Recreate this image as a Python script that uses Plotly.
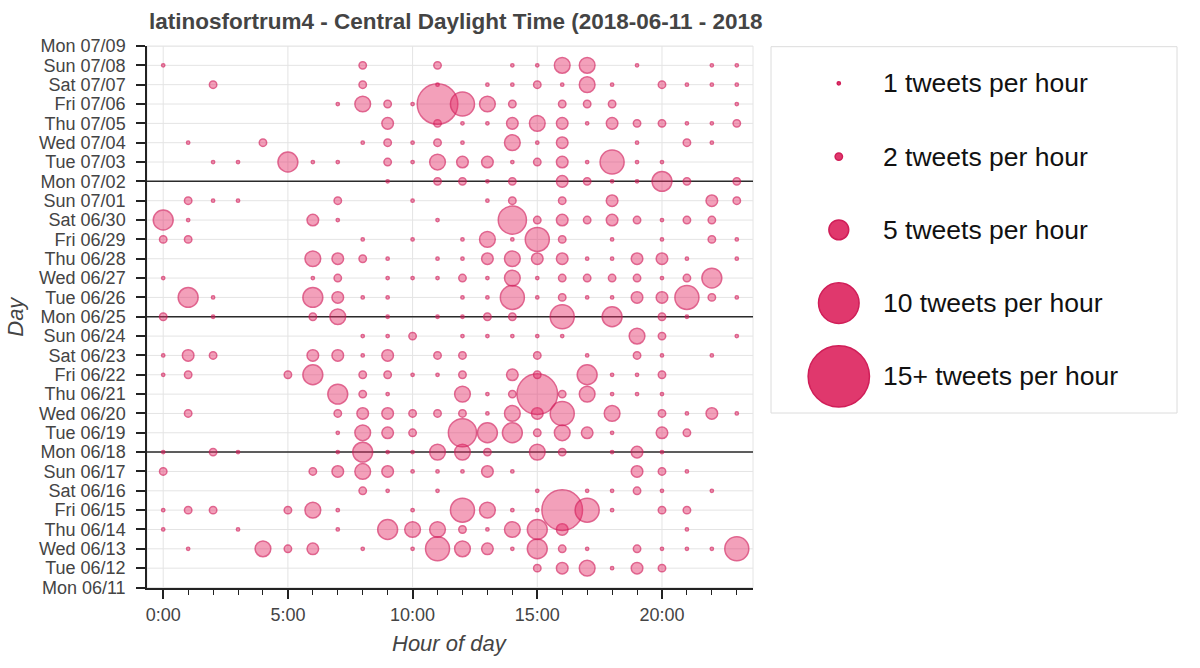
import plotly.graph_objects as go
import pandas as pd

# ---------------- data ----------------
day_labels = list(pd.date_range("2018-06-11", "2018-07-09").strftime("%a %m/%d"))
hour_ticks = [0, 5, 10, 15, 20]
hour_tick_labels = ["0:00", "5:00", "10:00", "15:00", "20:00"]

# tweets per hour, {hour: count}, one dict per day
week1 = [  # Mon 06/11 .. Sun 06/17
    {},
    {15: 2, 16: 3, 17: 4, 18: 1, 19: 3, 20: 2},
    {1: 1, 4: 4, 5: 2, 6: 3, 8: 1, 10: 1, 11: 6, 12: 4, 13: 3, 14: 1, 15: 5, 16: 2, 17: 1, 19: 2, 20: 1, 21: 1, 22: 1, 23: 6},
    {0: 1, 3: 1, 7: 1, 9: 5, 10: 4, 11: 4, 12: 2, 13: 1, 14: 4, 15: 5, 16: 3, 21: 1},
    {0: 1, 1: 2, 2: 2, 5: 2, 6: 4, 7: 1, 10: 1, 12: 6, 13: 4, 14: 1, 15: 1, 16: 10, 17: 6, 18: 1, 20: 2, 21: 2},
    {8: 2, 9: 1, 11: 1, 15: 1, 17: 1, 18: 1, 19: 2, 20: 1, 22: 1},
    {0: 2, 6: 2, 7: 3, 8: 4, 9: 3, 10: 1, 11: 1, 12: 1, 13: 3, 14: 1, 19: 3, 20: 2, 21: 1},
]
week2 = [  # Mon 06/18 .. Sun 06/24
    {0: 1, 2: 2, 3: 1, 7: 1, 8: 5, 9: 1, 10: 1, 11: 4, 12: 4, 13: 2, 15: 4, 16: 2, 18: 1, 19: 3, 20: 1},
    {7: 1, 8: 4, 9: 3, 10: 2, 12: 7, 13: 5, 14: 5, 15: 2, 16: 4, 17: 3, 18: 1, 20: 3, 21: 2},
    {1: 2, 7: 2, 8: 3, 9: 3, 10: 2, 11: 2, 12: 2, 13: 1, 14: 4, 15: 3, 16: 6, 18: 4, 20: 2, 21: 1, 22: 3, 23: 1},
    {7: 5, 8: 2, 9: 1, 12: 4, 13: 1, 14: 2, 15: 10, 16: 2, 17: 4, 18: 1, 19: 1, 20: 1},
    {0: 1, 1: 2, 5: 2, 6: 5, 8: 2, 9: 2, 10: 1, 11: 1, 12: 2, 14: 3, 15: 2, 17: 5, 18: 1, 19: 1, 20: 2},
    {0: 1, 1: 3, 2: 2, 6: 3, 7: 3, 8: 1, 9: 3, 11: 2, 12: 2, 15: 2, 17: 1, 19: 2, 20: 1, 22: 1},
    {8: 1, 9: 1, 10: 2, 12: 1, 13: 1, 14: 1, 15: 1, 16: 1, 19: 4, 20: 2, 23: 1},
]
week3 = [  # Mon 06/25 .. Sun 07/01
    {0: 2, 2: 1, 6: 2, 7: 4, 9: 1, 11: 1, 12: 1, 13: 2, 14: 2, 16: 6, 18: 5, 20: 2, 21: 1},
    {1: 5, 2: 1, 6: 5, 7: 3, 8: 1, 9: 1, 12: 1, 13: 1, 14: 6, 15: 1, 16: 2, 17: 1, 18: 1, 19: 3, 20: 3, 21: 6, 22: 2, 23: 1},
    {0: 1, 6: 1, 7: 2, 9: 1, 10: 1, 11: 1, 12: 2, 13: 1, 14: 4, 15: 1, 16: 2, 17: 2, 18: 2, 19: 2, 20: 1, 21: 2, 22: 5},
    {6: 4, 7: 3, 8: 2, 9: 1, 11: 1, 12: 1, 13: 3, 14: 4, 15: 3, 16: 3, 17: 1, 18: 1, 19: 3, 20: 3, 21: 1, 23: 1},
    {0: 2, 1: 2, 8: 1, 10: 1, 12: 1, 13: 4, 14: 1, 15: 6, 16: 2, 18: 1, 20: 1, 22: 2, 23: 1},
    {0: 5, 1: 1, 6: 3, 7: 1, 11: 1, 14: 7, 15: 2, 16: 3, 17: 2, 18: 3, 19: 2, 20: 1, 21: 2, 22: 2},
    {1: 2, 2: 1, 3: 1, 7: 2, 10: 1, 13: 1, 14: 2, 16: 2, 18: 3, 22: 3, 23: 2},
]
week4 = [  # Mon 07/02 .. Sun 07/08
    {9: 1, 11: 2, 12: 2, 13: 1, 14: 2, 16: 3, 17: 2, 18: 1, 19: 1, 20: 5, 21: 2, 23: 2},
    {2: 1, 3: 1, 5: 5, 6: 1, 7: 1, 9: 2, 10: 1, 11: 4, 12: 3, 13: 3, 14: 1, 15: 2, 16: 3, 17: 1, 18: 6, 19: 1, 20: 1},
    {1: 1, 4: 2, 8: 1, 9: 2, 10: 1, 11: 2, 12: 1, 14: 4, 15: 1, 16: 3, 19: 1, 21: 2, 22: 1},
    {9: 3, 11: 2, 12: 1, 13: 1, 14: 3, 15: 4, 16: 3, 17: 1, 18: 3, 19: 2, 20: 2, 21: 1, 22: 1, 23: 2},
    {7: 1, 8: 4, 9: 2, 10: 1, 11: 10, 12: 6, 13: 4, 14: 2, 16: 2, 17: 2, 18: 2, 23: 1},
    {2: 2, 8: 2, 11: 1, 13: 1, 14: 1, 15: 2, 16: 1, 17: 4, 18: 1, 20: 2, 21: 1, 22: 1, 23: 1},
    {0: 1, 8: 2, 11: 2, 14: 1, 15: 1, 16: 4, 17: 4, 19: 1, 22: 1, 23: 1},
]
week5 = [  # Mon 07/09
    {},
]
monday_rows = ["Mon 06/18", "Mon 06/25", "Mon 07/02"]

legend_counts = [1, 2, 5, 10, 15]
legend_labels = ["1 tweets per hour", "2 tweets per hour", "5 tweets per hour",
                 "10 tweets per hour", "15+ tweets per hour"]

title_text = "latinosfortrum4 - Central Daylight Time (2018-06-11 - 2018"

# ---------------- layout constants ----------------
W, H = 1200, 668
XR = [-0.65, 23.65]
YR = [0, 28]


def px(x):
    return x / W


def py(y):
    return 1 - y / H


PL, PR, PT, PB = 147, 753, 46, 587.5          # plot area (px)
LL, LR, LT, LB = 771, 1177, 46.7, 413          # legend box (px)
FONT = "Liberation Sans, Arial, Helvetica, sans-serif"
GRID = "#e4e4e4"


def diam(n):
    return 4.15 * min(n, 15) - 0.9


xs, ys, ss = [], [], []
all_days = week1 + week2 + week3 + week4 + week5
for di, rec in enumerate(all_days):
    for h, n in rec.items():
        xs.append(h)
        ys.append(di)
        ss.append(diam(n))

fig = go.Figure()
fig.add_trace(go.Scatter(
    x=xs, y=ys, mode="markers",
    marker=dict(size=ss, sizemode="diameter", color="rgba(228,44,104,0.64)",
                line=dict(color="rgba(210,26,88,0.95)", width=1.5)),
    showlegend=False, hoverinfo="skip", xaxis="x", yaxis="y"))

# legend glyphs
fig.add_trace(go.Scatter(
    x=[0.167] * len(legend_counts), y=list(range(len(legend_counts))), mode="markers",
    marker=dict(size=[diam(n) for n in legend_counts], sizemode="diameter",
                color="rgb(224,56,109)", opacity=1,
                line=dict(color="rgb(208,30,88)", width=1.5)),
    showlegend=False, hoverinfo="skip", xaxis="x2", yaxis="y2"))

annotations = []
for i, lab in enumerate(legend_labels):
    annotations.append(dict(text=lab, xref="paper", x=px(881), xanchor="left",
                            yref="y2", y=i, yanchor="middle", showarrow=False,
                            font=dict(family=FONT, size=26.5, color="#111")))

annotations += [
    dict(text="<b>" + title_text + "</b>", xref="paper", x=px(PL), xanchor="left",
         yref="paper", y=py(22), yanchor="middle", showarrow=False,
         font=dict(family=FONT, size=22.5, color="#444")),
    dict(text="<i>Hour of day</i>", xref="paper", x=px((PL + PR) / 2), xanchor="center",
         yref="paper", y=py(643), yanchor="middle", showarrow=False,
         font=dict(family=FONT, size=22, color="#444")),
    dict(text="<i>Day</i>", xref="paper", x=px(16), xanchor="center",
         yref="paper", y=py((PT + PB) / 2), yanchor="middle", showarrow=False,
         textangle=-90, font=dict(family=FONT, size=22, color="#444")),
]

shapes = [
    dict(type="rect", xref="paper", yref="paper", x0=px(LL), x1=px(LR),
         y0=py(LB), y1=py(LT), line=dict(color="#dcdcdc", width=1), layer="below"),
    dict(type="rect", xref="paper", yref="paper", x0=px(PL), x1=px(PR),
         y0=py(PB), y1=py(PT), line=dict(color=GRID, width=1), layer="below"),
]
# grid lines (drawn as shapes so the Monday separators sit on top of them)
for yi in range(len(day_labels)):
    shapes.append(dict(type="line", xref="paper", x0=px(PL), x1=px(PR), yref="y",
                       y0=yi, y1=yi, line=dict(color=GRID, width=1), layer="below"))
for hv in hour_ticks:
    shapes.append(dict(type="line", yref="paper", y0=py(PB), y1=py(PT), xref="x",
                       x0=hv, x1=hv, line=dict(color=GRID, width=1), layer="below"))
for m in monday_rows:
    yi = day_labels.index(m)
    shapes.append(dict(type="line", xref="paper", x0=px(PL), x1=px(PR), yref="y",
                       y0=yi, y1=yi, line=dict(color="#2b2b2b", width=1.5), layer="below"))

fig.update_layout(
    template="none",
    width=W, height=H, autosize=False,
    margin=dict(l=0, r=0, t=0, b=0, pad=0, autoexpand=False),
    paper_bgcolor="white", plot_bgcolor="white",
    font=dict(family=FONT, color="#444"),
    xaxis=dict(domain=[px(PL), px(PR)], range=XR, automargin=False,
               tickvals=hour_ticks, ticktext=hour_tick_labels,
               ticks="outside", ticklen=10, tickwidth=1.5, tickcolor="#222",
               showline=True, linecolor="#222", linewidth=1.5,
               showgrid=False, zeroline=False,
               tickfont=dict(family=FONT, size=18, color="#444"),
               minor=dict(tick0=0, dtick=1, ticks="outside", ticklen=6,
                          tickwidth=1.2, tickcolor="#222", showgrid=False),
               fixedrange=True),
    yaxis=dict(domain=[py(PB), py(PT)], range=YR, automargin=False,
               tickvals=list(range(len(day_labels))), ticktext=day_labels,
               ticks="outside", ticklen=9, tickwidth=1.5, tickcolor="#222",
               showline=True, linecolor="#222", linewidth=1.5,
               showgrid=False, zeroline=False,
               tickfont=dict(family=FONT, size=18, color="#444"),
               ticklabelstandoff=7, fixedrange=True),
    xaxis2=dict(domain=[px(LL), px(LR)], range=[0, 1], visible=False,
                automargin=False, fixedrange=True),
    yaxis2=dict(domain=[py(LB), py(LT)], range=[len(legend_counts) - 0.5, -0.5],
                visible=False, automargin=False, fixedrange=True),
    annotations=annotations,
    shapes=shapes,
)

fig.write_html("out.html", config={"displayModeBar": False},
               post_script="document.body.style.margin='0';document.body.style.overflow='hidden';")
